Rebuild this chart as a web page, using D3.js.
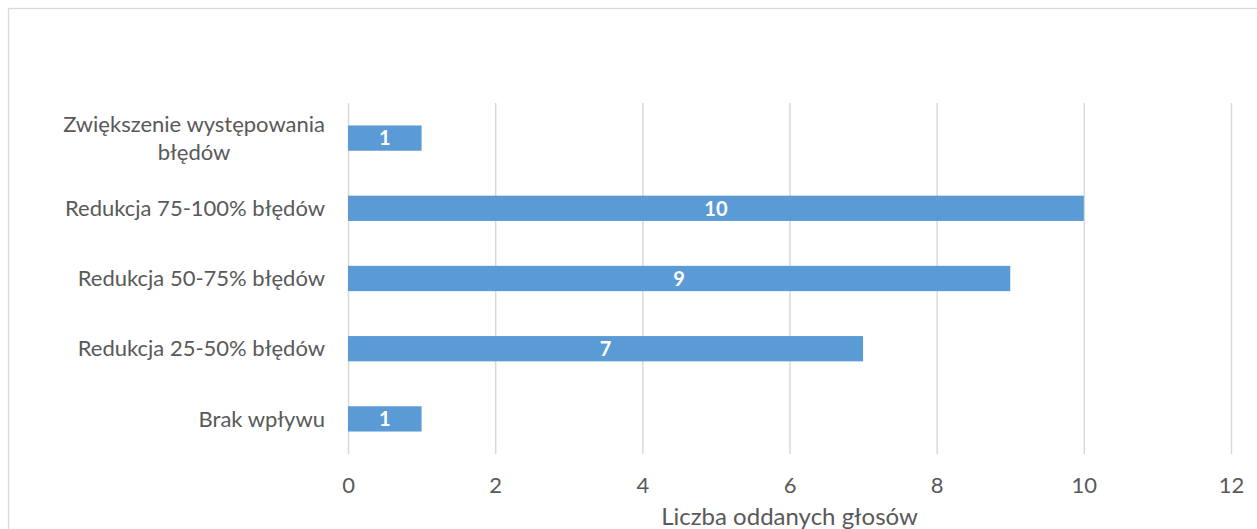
<!DOCTYPE html>
<html>
<head>
<meta charset="utf-8">
<script src="https://cdn.jsdelivr.net/npm/d3@7"></script>
<style>
  html, body { margin: 0; padding: 0; background: #fff; }
  svg { display: block; }
  text { font-family: Lato, "Open Sans", sans-serif; }
</style>
</head>
<body>
<svg id="chart" width="1257" height="529"></svg>
<script>
// Answers, listed from the top of the chart down
const categories = [
  "Zwiększenie występowania\nbłędów",
  "Redukcja 75-100% błędów",
  "Redukcja 50-75% błędów",
  "Redukcja 25-50% błędów",
  "Brak wpływu"
];
const votes = [1, 10, 9, 7, 1];
const xTicks = [0, 2, 4, 6, 8, 10, 12];
const xTitle = "Liczba oddanych głosów";

const W = 1257, H = 529;
const margin = { top: 103, right: 26, bottom: 75, left: 348 };
const svg = d3.select("#chart");

// chart area frame
svg.append("rect")
  .attr("x", 8.5).attr("y", 8.5)
  .attr("width", W + 20).attr("height", H + 20)
  .attr("fill", "#fff").attr("stroke", "#d9d9d9").attr("stroke-width", 1.3);

const x = d3.scaleLinear().domain([0, 12]).range([margin.left, W - margin.right]);
const y = d3.scaleBand().domain(categories)
  .range([margin.top, H - margin.bottom]).paddingInner(0.64).paddingOuter(0.32);

// vertical gridlines with the tick labels beneath
const xAxis = d3.axisBottom(x).tickValues(xTicks).tickSize(-(H - margin.bottom - margin.top));
const gx = svg.append("g")
  .attr("transform", `translate(0,${H - margin.bottom})`)
  .call(xAxis);
gx.select(".domain").remove();
gx.selectAll(".tick line").attr("stroke", "#d9d9d9").attr("stroke-width", 1.5);
gx.selectAll(".tick text")
  .attr("fill", "#595959").attr("font-size", 22)
  .attr("y", 39).attr("dy", null);

// bars
svg.append("g").selectAll("rect")
  .data(categories)
  .join("rect")
  .attr("x", x(0))
  .attr("y", d => y(d))
  .attr("width", (d, i) => x(votes[i]) - x(0))
  .attr("height", y.bandwidth())
  .attr("fill", "#5b9bd5");

// value labels centred in the bars
svg.append("g").selectAll("text")
  .data(categories)
  .join("text")
  .attr("x", (d, i) => (x(0) + x(votes[i])) / 2)
  .attr("y", d => y(d) + y.bandwidth() / 2)
  .attr("dy", "0.36em")
  .attr("text-anchor", "middle")
  .attr("fill", "#fff")
  .attr("font-weight", "bold")
  .attr("font-size", 20)
  .text((d, i) => votes[i]);

// category labels (multi-line labels centred as a block)
const labelRight = 325;
const lineH = 28;
const labels = svg.append("g");
categories.forEach(c => {
  const lines = c.split("\n");
  const cy = y(c) + y.bandwidth() / 2;
  const t = labels.append("text")
    .attr("fill", "#595959")
    .attr("font-size", 22);
  lines.forEach((ln, j) => {
    t.append("tspan").attr("y", cy + (j - (lines.length - 1) / 2) * lineH).attr("dy", "0.35em").text(ln);
  });
  if (lines.length === 1) {
    t.attr("text-anchor", "end").selectAll("tspan").attr("x", labelRight);
  } else {
    const widths = [];
    t.selectAll("tspan").each(function () { widths.push(this.getComputedTextLength()); });
    const cx = labelRight - d3.max(widths) / 2;
    t.attr("text-anchor", "middle").selectAll("tspan").attr("x", cx);
  }
});

// axis title
svg.append("text")
  .attr("x", (x(0) + x(12)) / 2)
  .attr("y", 525)
  .attr("text-anchor", "middle")
  .attr("fill", "#595959")
  .attr("font-size", 24)
  .text(xTitle);
</script>
</body>
</html>
